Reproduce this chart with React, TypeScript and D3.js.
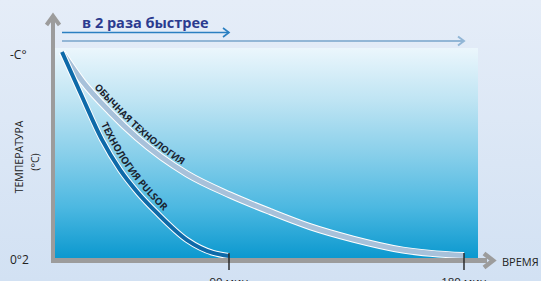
import React from "react";
import * as d3 from "d3";

// time in minutes, temperature in relative units (100 = -C°, 0 = 0°2)
const pulsorTime = [0, 9.7, 21.6, 31.3, 41, 51.2, 67.4, 81.4, 90];
const pulsorTemp = [100, 80.4, 56.9, 42.2, 30.9, 21.1, 7.8, 1.5, 0];
const ordinaryTime = [0, 11.3, 25.9, 40.4, 67.4, 90.4, 105.7, 121, 137.5, 156.6, 180];
const ordinaryTemp = [100, 85.3, 70.6, 58, 40.2, 29.9, 21.8, 14.4, 8.3, 2.9, 0.2];
const tickMinutes = [90, 180];
const tickLabels = ["90 мин", "180 мин"];

const W = 541;
const H = 281;

export default function App() {
  const x = d3.scaleLinear().domain([0, 90, 180]).range([62, 229, 464]);
  const y = d3.scaleLinear().domain([0, 100]).range([256, 52]);

  const line = d3
    .line<[number, number]>()
    .x((d) => x(d[0]))
    .y((d) => y(d[1]))
    .curve(d3.curveMonotoneX);

  const pulsorPath = line(pulsorTime.map((t, i) => [t, pulsorTemp[i]])) || "";
  const ordinaryPath = line(ordinaryTime.map((t, i) => [t, ordinaryTemp[i]])) || "";

  const gray = "#9c9c9c";
  const axisY = 260.5;
  const x90 = x(90);
  const x180 = x(180);

  return (
    <svg
      width={W}
      height={H}
      style={{ position: "fixed", left: 0, top: 0, display: "block" }}
      fontFamily="'Open Sans', 'DejaVu Sans', sans-serif"
    >
      <defs>
        <linearGradient id="bg" x1="0" y1="0" x2="0" y2="1">
          <stop offset="0" stopColor="#e5edf8" />
          <stop offset="1" stopColor="#d2e1f3" />
        </linearGradient>
        <linearGradient id="plot" x1="0" y1="0" x2="0" y2="1">
          <stop offset="0" stopColor="#ebf6fc" />
          <stop offset="0.25" stopColor="#bee4f3" />
          <stop offset="0.5" stopColor="#88cfea" />
          <stop offset="0.75" stopColor="#4cb8e1" />
          <stop offset="1" stopColor="#0897ce" />
        </linearGradient>
        <path id="ordPath" d={ordinaryPath} />
        <path id="pulPath" d={pulsorPath} />
      </defs>

      <rect width={W} height={H} fill="url(#bg)" />
      <rect x={55} y={48} width={478 - 55} height={axisY - 48} fill="url(#plot)" />

      {/* top arrows */}
      <text x={82} y={28} fontSize={14.5} fontWeight="bold" fill="#2b3b8f">
        в 2 раза быстрее
      </text>
      <line x1={62} x2={x90} y1={32.5} y2={32.5} stroke="#2a7fc1" strokeWidth={1.6} />
      <path d={`M${x90 - 6},28 L${x90},32.5 L${x90 - 6},37`} fill="none" stroke="#2a7fc1" strokeWidth={1.6} />
      <line x1={62} x2={x180} y1={41} y2={41} stroke="#92b6d6" strokeWidth={2} />
      <path d={`M${x180 - 6},36.5 L${x180},41 L${x180 - 6},45.5`} fill="none" stroke="#92b6d6" strokeWidth={2} />

      {/* curves */}
      <path d={ordinaryPath} fill="none" stroke="#ffffff" strokeWidth={7} strokeLinecap="butt" />
      <path d={ordinaryPath} fill="none" stroke="#a7c1da" strokeWidth={5} strokeLinecap="butt" />
      <path d={pulsorPath} fill="none" stroke="#ffffff" strokeWidth={6} strokeLinecap="butt" />
      <path d={pulsorPath} fill="none" stroke="#0e6aa9" strokeWidth={4} strokeLinecap="butt" />

      <text fontSize={9.6} fontWeight="bold" fill="#1b2430" dy={-5}>
        <textPath href="#ordPath" startOffset={48}>
          ОБЫЧНАЯ ТЕХНОЛОГИЯ
        </textPath>
      </text>
      <text fontSize={9.8} fontWeight="bold" fill="#1b2430" dy={-6}>
        <textPath href="#pulPath" startOffset={82}>
          ТЕХНОЛОГИЯ PULSOR
        </textPath>
      </text>

      {/* axes */}
      <rect x={51} y={19} width={4} height={axisY + 2.5 - 19} fill={gray} />
      <path d="M46.5,25 L53,16 L59.5,25" fill="none" stroke={gray} strokeWidth={4} strokeLinejoin="miter" />
      <rect x={51} y={axisY - 2.5} width={487 - 51} height={5} fill={gray} />
      <path d="M484,253.5 L493,260.5 L484,267.5" fill="none" stroke={gray} strokeWidth={4.5} strokeLinejoin="miter" />

      {tickMinutes.map((m, i) => (
        <g key={m}>
          <line x1={x(m)} x2={x(m)} y1={253} y2={270} stroke="#222" strokeWidth={1.4} />
          <text x={x(m)} y={286} fontSize={11.5} fill="#222" textAnchor="middle">
            {tickLabels[i]}
          </text>
        </g>
      ))}

      <text x={502} y={266} fontSize={11} fill="#222">
        ВРЕМЯ
      </text>
      <text x={10} y={59} fontSize={12} fill="#222">
        -C°
      </text>
      <text x={10} y={264} fontSize={12} fill="#222">
        0°2
      </text>
      <text transform="translate(23,157) rotate(-90)" fontSize={10.5} fill="#222" textAnchor="middle">
        ТЕМПЕРАТУРА
      </text>
      <text transform="translate(39,162) rotate(-90)" fontSize={10.5} fill="#222" textAnchor="middle">
        (°C)
      </text>
    </svg>
  );
}
